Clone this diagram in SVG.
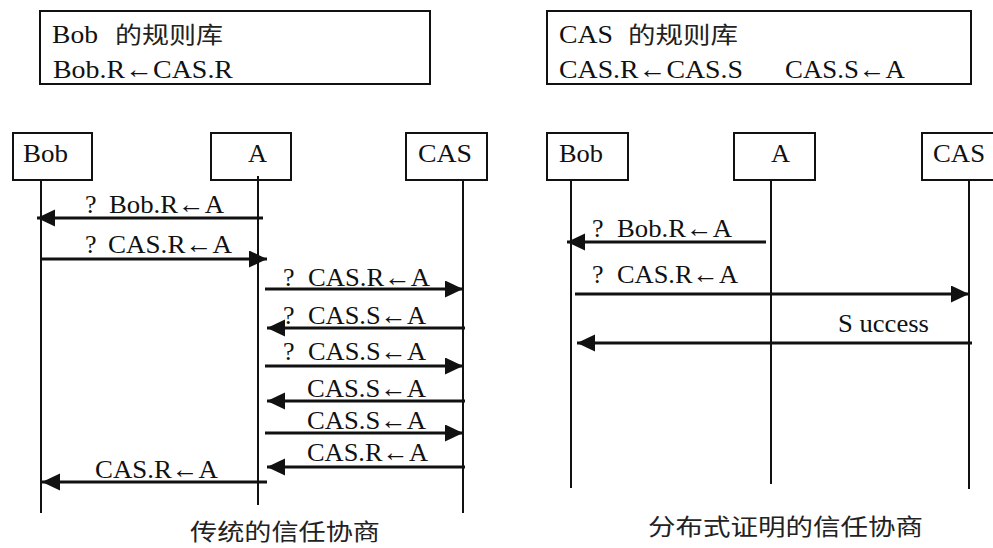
<svg xmlns="http://www.w3.org/2000/svg" width="993" height="548" viewBox="0 0 993 548">
<style>
.box{fill:none;stroke:#111;stroke-width:2}
.life{stroke:#111;stroke-width:2;fill:none}
.msg{stroke:#111;stroke-width:3;fill:none;marker-end:url(#ah)}
text{font-family:'Liberation Serif','Times New Roman',serif;font-size:26px;fill:#111}
.cjk{font-family:'Noto Sans CJK SC','Noto Sans CJK TC',sans-serif;font-size:23px;fill:#222}
</style>
<defs>
<marker id="ah" markerUnits="userSpaceOnUse" markerWidth="20" markerHeight="20" refX="18" refY="8.5" orient="auto">
<path d="M0,0 L18,8.5 L0,17 Z" fill="#111"/>
</marker>
</defs>
<rect width="993" height="548" fill="#fff"/>

<g id="bob-rules">
<rect class="box" x="40" y="11" width="390" height="73"/>
<text y="43"><tspan x="52" textLength="46" lengthAdjust="spacingAndGlyphs">Bob</tspan><tspan class="cjk" x="115" textLength="108" lengthAdjust="spacingAndGlyphs">的规则库</tspan></text>
<text x="53" y="78" textLength="180" lengthAdjust="spacingAndGlyphs">Bob.R←CAS.R</text>
</g>
<g id="cas-rules">
<rect class="box" x="547" y="11" width="424" height="73"/>
<text y="43"><tspan x="559" textLength="54" lengthAdjust="spacingAndGlyphs">CAS</tspan><tspan class="cjk" x="628" textLength="110" lengthAdjust="spacingAndGlyphs">的规则库</tspan></text>
<text x="559" y="78" textLength="184" lengthAdjust="spacingAndGlyphs">CAS.R←CAS.S</text>
<text x="785" y="78" textLength="120" lengthAdjust="spacingAndGlyphs">CAS.S←A</text>
</g>

<g id="left-bob">
<rect class="box" x="13" y="133" width="79" height="47"/>
<text x="23" y="162" textLength="45" lengthAdjust="spacingAndGlyphs">Bob</text>
<line class="life" x1="41" y1="180" x2="41" y2="513"/>
</g>
<g id="left-a">
<rect class="box" x="211" y="133" width="80" height="47"/>
<text x="248" y="162" textLength="19" lengthAdjust="spacingAndGlyphs">A</text>
<line class="life" x1="258" y1="176" x2="258" y2="505"/>
</g>
<g id="left-cas">
<rect class="box" x="406" y="133" width="81" height="47"/>
<text x="418" y="162" textLength="54" lengthAdjust="spacingAndGlyphs">CAS</text>
<line class="life" x1="463" y1="180" x2="463" y2="513"/>
</g>

<g id="right-bob">
<rect class="box" x="547" y="133" width="81" height="47"/>
<text x="559" y="162" textLength="44" lengthAdjust="spacingAndGlyphs">Bob</text>
<line class="life" x1="571" y1="180" x2="571" y2="488"/>
</g>
<g id="right-a">
<rect class="box" x="734" y="133" width="81" height="47"/>
<text x="771" y="162" textLength="19" lengthAdjust="spacingAndGlyphs">A</text>
<line class="life" x1="771" y1="180" x2="771" y2="484"/>
</g>
<g id="right-cas">
<rect class="box" x="922" y="133" width="81" height="47"/>
<text x="933" y="162" textLength="52" lengthAdjust="spacingAndGlyphs">CAS</text>
<line class="life" x1="969" y1="180" x2="969" y2="489"/>
</g>

<g id="connectors">
<line class="msg" x1="263" y1="218" x2="37" y2="218"/>
<line class="msg" x1="40" y1="259" x2="267" y2="259"/>
<line class="msg" x1="265" y1="289" x2="463" y2="289"/>
<line class="msg" x1="465" y1="328" x2="267" y2="328"/>
<line class="msg" x1="265" y1="366" x2="463" y2="366"/>
<line class="msg" x1="465" y1="401" x2="267" y2="401"/>
<line class="msg" x1="265" y1="433" x2="463" y2="433"/>
<line class="msg" x1="465" y1="467" x2="267" y2="467"/>
<line class="msg" x1="267" y1="482" x2="42" y2="482"/>
<line class="msg" x1="766" y1="242" x2="567" y2="242"/>
<line class="msg" x1="575" y1="294" x2="969" y2="294"/>
<line class="msg" x1="972" y1="343" x2="577" y2="343"/>
</g>

<g id="labels">
<text y="213"><tspan x="85">?</tspan><tspan x="109" textLength="115" lengthAdjust="spacingAndGlyphs">Bob.R←A</tspan></text>
<text y="253"><tspan x="85">?</tspan><tspan x="108" textLength="124" lengthAdjust="spacingAndGlyphs">CAS.R←A</tspan></text>
<text y="286"><tspan x="283">?</tspan><tspan x="308" textLength="122" lengthAdjust="spacingAndGlyphs">CAS.R←A</tspan></text>
<text y="324"><tspan x="283">?</tspan><tspan x="308" textLength="118" lengthAdjust="spacingAndGlyphs">CAS.S←A</tspan></text>
<text y="360"><tspan x="283">?</tspan><tspan x="308" textLength="118" lengthAdjust="spacingAndGlyphs">CAS.S←A</tspan></text>
<text x="307" y="397" textLength="119" lengthAdjust="spacingAndGlyphs">CAS.S←A</text>
<text x="307" y="429" textLength="119" lengthAdjust="spacingAndGlyphs">CAS.S←A</text>
<text x="307" y="461" textLength="121" lengthAdjust="spacingAndGlyphs">CAS.R←A</text>
<text x="95" y="478" textLength="123" lengthAdjust="spacingAndGlyphs">CAS.R←A</text>
<text y="237"><tspan x="592">?</tspan><tspan x="617" textLength="115" lengthAdjust="spacingAndGlyphs">Bob.R←A</tspan></text>
<text y="283"><tspan x="592">?</tspan><tspan x="617" textLength="121" lengthAdjust="spacingAndGlyphs">CAS.R←A</tspan></text>
<text x="838" y="332" textLength="91" lengthAdjust="spacingAndGlyphs">S uccess</text>
</g>

<g id="captions">
<text class="cjk" x="190" y="540" textLength="190" lengthAdjust="spacingAndGlyphs">传统的信任协商</text>
<text class="cjk" x="648" y="535" textLength="275" lengthAdjust="spacingAndGlyphs">分布式证明的信任协商</text>
</g>
</svg>
